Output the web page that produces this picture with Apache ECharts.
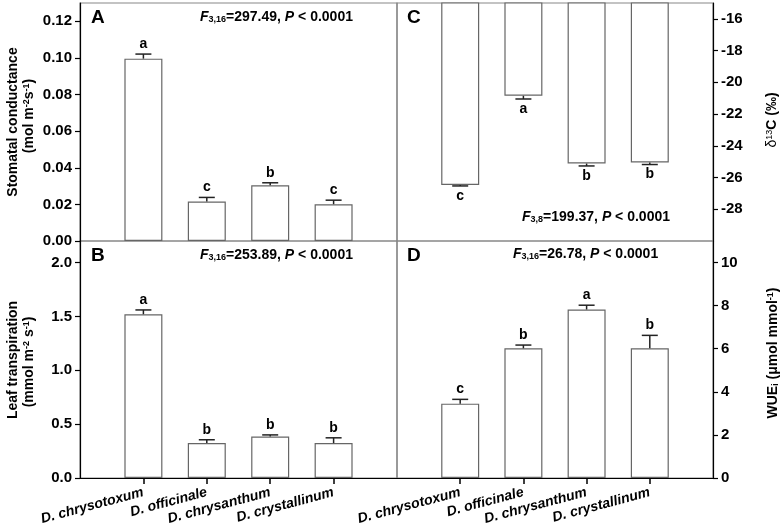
<!DOCTYPE html>
<html><head><meta charset="utf-8">
<script src="https://cdn.jsdelivr.net/npm/echarts@6/dist/echarts.min.js"></script>
<style>html,body{margin:0;padding:0;background:#fff}#c{width:782px;height:527px}</style>
</head><body><div id="c"></div>
<script>
var categories = ['D. chrysotoxum', 'D. officinale', 'D. chrysanthum', 'D. crystallinum'];

var conductance = [0.0996, 0.0216, 0.0304, 0.0201];
var conductanceSE = [0.0025, 0.0022, 0.0014, 0.0022];
var conductanceLetters = ['a', 'c', 'b', 'c'];
var conductanceTicks = [0, 0.02, 0.04, 0.06, 0.08, 0.10, 0.12];

var transpiration = [1.52, 0.324, 0.385, 0.324];
var transpirationSE = [0.04, 0.031, 0.015, 0.049];
var transpirationLetters = ['a', 'b', 'b', 'b'];
var transpirationTicks = [0, 0.5, 1.0, 1.5, 2.0];

var delta13C = [-26.47, -20.85, -25.12, -25.05];
var delta13CSE = [0.06, 0.2, 0.15, 0.13];
var delta13CLetters = ['c', 'a', 'b', 'b'];
var delta13CTicks = [-28, -26, -24, -22, -20, -18, -16];

var wue = [3.45, 6.02, 7.82, 6.02];
var wueSE = [0.2, 0.15, 0.2, 0.6];
var wueLetters = ['c', 'b', 'a', 'b'];
var wueTicks = [0, 2, 4, 6, 8, 10];

var FONT = '"Liberation Sans", Arial, sans-serif';
var cats6 = [''].concat(categories).concat(['']);
function pad(arr) { return ['-'].concat(arr).concat(['-']); }
function showInner(i) { return i > 0 && i < 5; }

function errSeries(xi, yi, vals, se, letters, dir) {
  return {
    type: 'custom', xAxisIndex: xi, yAxisIndex: yi, z: 5, silent: true,
    data: vals.map(function (v, i) { return [i + 1, v, se[i], dir]; }),
    renderItem: function (params, api) {
      var x = api.value(0), v = api.value(1), s = api.value(2), d = api.value(3);
      var p0 = api.coord([x, v]);
      var p1 = api.coord([x, v + d * s]);
      var cap = 8;
      var ly = p1[1] - d * 10;
      return {
        type: 'group', children: [
          { type: 'line', shape: { x1: p0[0], y1: p0[1], x2: p1[0], y2: p1[1] }, style: { stroke: '#222', lineWidth: 1.5 } },
          { type: 'line', shape: { x1: p1[0] - cap, y1: p1[1], x2: p1[0] + cap, y2: p1[1] }, style: { stroke: '#222', lineWidth: 1.5 } },
          { type: 'text', style: { text: letters[params.dataIndex], x: p1[0], y: ly, align: 'center', verticalAlign: 'middle', font: 'bold 14px ' + FONT, fill: '#000' } }
        ]
      };
    }
  };
}

function barSeries(xi, yi, vals) {
  return {
    type: 'bar', xAxisIndex: xi, yAxisIndex: yi, data: pad(vals), barWidth: 38, silent: true, clip: true,
    itemStyle: { color: '#fff', borderColor: '#666', borderWidth: 1.2 }
  };
}

function xAx(gi, labels) {
  return {
    gridIndex: gi, type: 'category', data: cats6, boundaryGap: false,
    axisLine: { show: labels, lineStyle: { color: '#000', width: 1.2 } },
    axisTick: { show: labels, interval: showInner, length: 6, lineStyle: { color: '#000', width: 1.5 } },
    axisLabel: { show: labels, interval: 0, hideOverlap: false, rotate: 15, margin: 14, fontStyle: 'italic', fontWeight: 'bold', fontSize: 14, fontFamily: FONT, color: '#000' },
    splitLine: { show: false }
  };
}

function yAx(gi, min, max, ticks, dec, pos) {
  return {
    gridIndex: gi, type: 'value', min: min, max: max, position: pos,
    axisLine: { show: true, lineStyle: { color: '#000', width: 1.2 } },
    axisTick: { show: true, length: 5, customValues: ticks, lineStyle: { color: '#000', width: 1.2 } },
    axisLabel: { customValues: ticks, formatter: function (v) { return Number(v).toFixed(dec); }, margin: 8, fontWeight: 'bold', fontSize: 15, fontFamily: FONT, color: '#000' },
    splitLine: { show: false }
  };
}

function gridOf(l, t, w, h) {
  return { left: l, top: t, width: w, height: h, show: true, borderColor: '#888', borderWidth: 1.2, backgroundColor: 'transparent', containLabel: false };
}

var bold14 = 'bold 14px ' + FONT;
function ftext(x, y, sub, rest, align) {
  return {
    type: 'text', x: x, y: y, silent: true,
    style: {
      text: '{it|F}{sub|' + sub + '}' + rest.split('P').join('{it|P}'),
      rich: {
        it: { fontStyle: 'italic', fontWeight: 'bold', fontSize: 14, fontFamily: FONT },
        sub: { fontWeight: 'bold', fontSize: 9, fontFamily: FONT, verticalAlign: 'bottom' }
      },
      font: bold14, fill: '#000', align: align || 'left', verticalAlign: 'middle'
    }
  };
}
function rtext(x, y, text, rich, font) {
  return {
    type: 'text', x: x, y: y, rotation: Math.PI / 2, silent: true,
    style: { text: text, rich: rich || {}, font: font || bold14, fill: '#000', align: 'center', verticalAlign: 'middle' }
  };
}
function letter(x, y, t) {
  return { type: 'text', x: x, y: y, silent: true, style: { text: t, font: 'bold 19px ' + FONT, fill: '#000', align: 'left', verticalAlign: 'middle' } };
}
var supStyle = { fontSize: 9, fontWeight: 'bold', fontFamily: FONT, verticalAlign: 'top', lineHeight: 9 };
var subStyle = { fontSize: 9, fontWeight: 'bold', fontFamily: FONT, verticalAlign: 'bottom', lineHeight: 9 };

var chart = echarts.init(document.getElementById('c'));
window.chart = chart;

var option = {
  animation: false,
  backgroundColor: '#fff',
  grid: [
    gridOf(80, 3, 317, 238),
    gridOf(80, 241, 317, 237),
    gridOf(397, 3, 316, 238),
    gridOf(397, 241, 316, 237)
  ],
  xAxis: [xAx(0, false), xAx(1, true), xAx(2, false), xAx(3, true)],
  yAxis: [
    yAx(0, 0, 0.13, conductanceTicks, 2, 'left'),
    yAx(1, 0, 2.2, transpirationTicks, 1, 'left'),
    yAx(2, -30, -15, delta13CTicks, 0, 'right'),
    yAx(3, 0, 11, wueTicks, 0, 'right')
  ],
  series: [
    barSeries(0, 0, conductance), errSeries(0, 0, conductance, conductanceSE, conductanceLetters, 1),
    barSeries(1, 1, transpiration), errSeries(1, 1, transpiration, transpirationSE, transpirationLetters, 1),
    barSeries(2, 2, delta13C), errSeries(2, 2, delta13C, delta13CSE, delta13CLetters, -1),
    barSeries(3, 3, wue), errSeries(3, 3, wue, wueSE, wueLetters, 1)
  ],
  graphic: [
    letter(91, 18, 'A'), letter(91, 256, 'B'), letter(407, 18, 'C'), letter(407, 256, 'D'),
    ftext(200, 17, '3,16', '=297.49, P < 0.0001'),
    ftext(200, 255, '3,16', '=253.89, P < 0.0001'),
    ftext(670, 217, '3,8', '=199.37, P < 0.0001', 'right'),
    ftext(513, 254, '3,16', '=26.78, P < 0.0001'),
    rtext(13, 122, 'Stomatal conductance'),
    rtext(29, 116, '(mol m{sup|-2}s{sup|-1})', { sup: supStyle }),
    rtext(13, 360, 'Leaf transpiration'),
    rtext(29, 362, '(mmol m{sup|-2} s{sup|-1})', { sup: supStyle }),
    rtext(772, 120, '{reg|δ}{rsup|13}C (‰)', {
      reg: { fontSize: 14, fontWeight: 'normal', fontFamily: FONT },
      rsup: { fontSize: 9, fontWeight: 'normal', fontFamily: FONT, verticalAlign: 'top', lineHeight: 9 }
    }),
    rtext(773, 353, 'WUE{sub|i} (μmol mmol{sup|-1})', { sup: supStyle, sub: subStyle })
  ]
};
try {
  chart.setOption(option);
} catch (e) {
  document.body.insertAdjacentHTML('beforeend', '<pre id="err">' + String(e && e.stack || e) + '</pre>');
  throw e;
}
</script></body></html>
